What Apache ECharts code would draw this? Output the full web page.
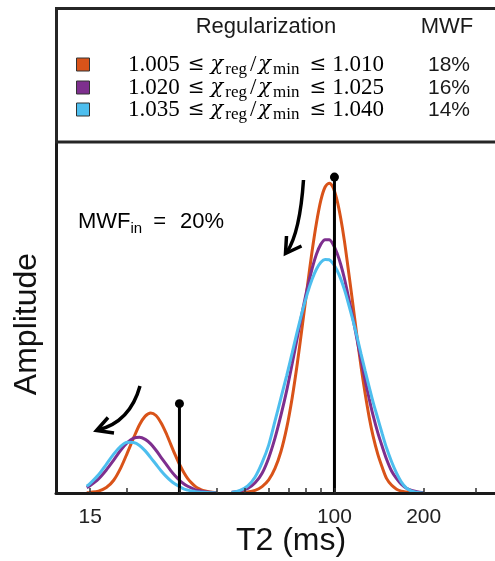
<!DOCTYPE html>
<html><head><meta charset="utf-8">
<script src="https://cdn.jsdelivr.net/npm/echarts@6/dist/echarts.min.js"></script>
<style>html,body{margin:0;padding:0;background:#fff}#c{width:495px;height:561px}</style>
</head><body><div id="c"></div>
<script>
// ---- data (T2 in ms, amplitude in arbitrary units) ----
const t2Short = [14.6,15,16,17,18,19,20,21,22,23,24,25,26,27,28,29,30,31,32,33,34,35,36,38,40];
const orangeShort = [0.001,0.002,0.006,0.017,0.040,0.078,0.125,0.172,0.214,0.241,0.251,0.243,0.220,0.189,0.154,0.120,0.090,0.065,0.045,0.031,0.020,0.013,0.008,0.003,0.001];
const purpleShort = [0.017,0.023,0.044,0.072,0.103,0.134,0.158,0.172,0.175,0.168,0.154,0.134,0.112,0.091,0.071,0.054,0.040,0.029,0.021,0.015,0.010,0.007,0.005,0.002,0.000];
const blueShort   = [0.021,0.030,0.057,0.090,0.122,0.146,0.159,0.158,0.149,0.132,0.111,0.090,0.070,0.053,0.039,0.028,0.020,0.013,0.009,0.006,0.004,0.003,0.002,0.001,0.000];

const t2Long = [45,48,51,54,57,60,63,66,69,72,75,78,81,84,87,90,93,96,99,102,105,108,111,115,119,123,127,131,135,140,145,150,156,162,168,175,182,190,200];
const orangeLong = [0.000,0.001,0.003,0.008,0.020,0.041,0.077,0.130,0.204,0.298,0.408,0.528,0.646,0.756,0.848,0.918,0.959,0.971,0.957,0.918,0.861,0.791,0.710,0.602,0.494,0.395,0.310,0.237,0.178,0.122,0.080,0.045,0.024,0.012,0.006,0.003,0.001,0.000,0.000];
const purpleLong = [0.002,0.006,0.014,0.032,0.062,0.110,0.172,0.244,0.321,0.405,0.489,0.570,0.642,0.702,0.749,0.780,0.794,0.794,0.779,0.752,0.716,0.673,0.623,0.555,0.484,0.416,0.352,0.295,0.243,0.189,0.145,0.105,0.068,0.045,0.028,0.015,0.008,0.004,0.001];
const blueLong   = [0.002,0.008,0.022,0.050,0.095,0.150,0.225,0.298,0.368,0.439,0.508,0.571,0.625,0.669,0.702,0.723,0.732,0.731,0.719,0.698,0.671,0.638,0.600,0.547,0.492,0.435,0.382,0.332,0.285,0.234,0.185,0.140,0.097,0.062,0.035,0.015,0.006,0.002,0.000];

const stemT2  = [30, 100];
const stemAmp = [0.28, 0.99];

const xLabelValues = [15, 100, 200];
const xTickValues  = [15, 20, 30, 40, 50, 60, 70, 80, 90, 100, 200, 300];
const xRange = [11.5, 348];

const regLow  = ['1.005', '1.020', '1.035'];
const regHigh = ['1.010', '1.025', '1.040'];
const mwfOut  = ['18%', '16%', '14%'];
const colors  = ['#D95319', '#7E2F8E', '#4DBEEE'];
const mwfIn = '20%';

// ---- chart ----
const L = v => Math.log10(v);
const pairs = (xs, ys) => xs.map((x, i) => [L(x), ys[i]]);
const SANS = "'Liberation Sans', Arial, Helvetica, sans-serif";
const SERIF = "'Liberation Serif', 'Times New Roman', serif";
const SERIF2 = "'DejaVu Serif', serif";

const curveSets = [[orangeShort, orangeLong], [purpleShort, purpleLong], [blueShort, blueLong]];
const series = [];
curveSets.forEach((set, k) => {
  [[t2Short, set[0]], [t2Long, set[1]]].forEach(([xs, ys]) => {
    series.push({
      type: 'line', data: pairs(xs, ys), smooth: 0.3, showSymbol: false, symbol: 'none',
      lineStyle: { color: colors[k], width: 3 }, itemStyle: { color: colors[k] },
      z: 2 + k * 0.01, silent: true, animation: false
    });
  });
});
stemT2.forEach((t, i) => {
  series.push({
    type: 'line', animation: false, silent: true, z: 4,
    data: [{ value: [L(t), 0], symbol: 'none' }, { value: [L(t), stemAmp[i]], symbol: 'circle', symbolSize: 9 }],
    showSymbol: true, showAllSymbol: true,
    lineStyle: { color: '#000', width: 3 }, itemStyle: { color: '#000' }
  });
});

const graphic = [];
// legend box (its bottom edge is the plot's top frame)
graphic.push({ type: 'rect', shape: { x: 56.5, y: 8.5, width: 470, height: 133.5 },
  style: { fill: 'none', stroke: '#262626', lineWidth: 3 }, z: 10 });
graphic.push({ type: 'text', x: 266, y: 27, style: { text: 'Regularization', font: `22px ${SANS}`, fill: '#1a1a1a', align: 'center', verticalAlign: 'middle' }, z: 10 });
graphic.push({ type: 'text', x: 447, y: 27, style: { text: 'MWF', font: `22px ${SANS}`, fill: '#1a1a1a', align: 'center', verticalAlign: 'middle' }, z: 10 });
const rowY = [65, 88, 110];
const C = '#141414';
const rich = {
  n: { fontFamily: SERIF, fontSize: 23, lineHeight: 26, color: C },
  op: { fontFamily: SERIF2, fontSize: 20, lineHeight: 26, padding: [0, 6, 0, 8], color: C },
  c: { fontFamily: SERIF2, fontSize: 21, fontStyle: 'italic', lineHeight: 26, color: C, padding: [0, 1, 0, 0] },
  s: { fontFamily: SERIF, fontSize: 17, lineHeight: 18, verticalAlign: 'bottom', color: C, padding: [0, 2, 0, 1] },
  sl: { fontFamily: SERIF, fontSize: 23, lineHeight: 26, color: C, padding: [0, 2, 0, 1] }
};
rowY.forEach((y, i) => {
  graphic.push({ type: 'rect', shape: { x: 76.5, y: y - 7, width: 13, height: 13 },
    style: { fill: colors[i], stroke: '#333', lineWidth: 1 }, z: 10 });
  graphic.push({ type: 'text', x: 128, y: y, z: 10, style: {
    text: `{n|${regLow[i]}}{op|≤}{c|χ}{s|reg}{sl|/}{c|χ}{s|min}{op|≤}{n|${regHigh[i]}}`,
    rich: rich, align: 'left', verticalAlign: 'middle' } });
  graphic.push({ type: 'text', x: 449, y: y, z: 10, style: { text: mwfOut[i], font: `21px ${SANS}`, fill: '#1a1a1a', align: 'center', verticalAlign: 'middle' } });
});
// MWF_in annotation
graphic.push({ type: 'text', x: 78, y: 222, z: 10, style: {
  text: `{a|MWF}{b|in}{e|=}{a|${mwfIn}}`,
  rich: { a: { fontFamily: SANS, fontSize: 22, lineHeight: 28, color: '#1a1a1a' },
          b: { fontFamily: SANS, fontSize: 15, lineHeight: 12, verticalAlign: 'bottom', color: '#1a1a1a', padding: [0, 4, 0, 0] },
          e: { fontFamily: SANS, fontSize: 22, lineHeight: 28, color: '#1a1a1a', padding: [0, 14, 0, 7] } },
  align: 'left', verticalAlign: 'middle' } });
// axis titles
graphic.push({ type: 'text', x: 291, y: 541, z: 10, style: { text: 'T2 (ms)', font: `32px ${SANS}`, fill: '#111', align: 'center', verticalAlign: 'middle' } });
graphic.push({ type: 'text', x: 27, y: 324, rotation: Math.PI / 2, z: 10, style: { text: 'Amplitude', font: `32px ${SANS}`, fill: '#111', align: 'center', verticalAlign: 'middle' } });
// arrows
graphic.push({ type: 'bezierCurve', z: 10, shape: { x1: 303.5, y1: 180, cpx1: 300, cpy1: 232, x2: 287, y2: 252 },
  style: { stroke: '#000', lineWidth: 3.5, fill: 'none' } });
graphic.push({ type: 'polyline', z: 10, shape: { points: [[286.5, 236], [285.5, 253.5], [301.5, 246]] },
  style: { stroke: '#000', lineWidth: 3.5, fill: 'none', lineJoin: 'miter' } });
graphic.push({ type: 'bezierCurve', z: 10, shape: { x1: 140, y1: 386, cpx1: 130, cpy1: 422, x2: 98, y2: 430 },
  style: { stroke: '#000', lineWidth: 3.5, fill: 'none' } });
graphic.push({ type: 'polyline', z: 10, shape: { points: [[108, 417.5], [96.5, 430.5], [114, 433]] },
  style: { stroke: '#000', lineWidth: 3.5, fill: 'none', lineJoin: 'miter' } });

const chart = echarts.init(document.getElementById('c'), null, { renderer: 'canvas' });
chart.setOption({
  backgroundColor: '#fff',
  animation: false,
  grid: { left: 56, right: 0, top: 142, bottom: 68, containLabel: false },
  xAxis: {
    type: 'value', min: L(xRange[0]), max: L(xRange[1]), z: 5,
    axisLine: { show: true, lineStyle: { color: '#1a1a1a', width: 3 } },
    axisTick: { show: true, inside: true, length: 5, customValues: xTickValues.map(L), lineStyle: { color: '#333', width: 1.5 } },
    axisLabel: { show: true, customValues: xLabelValues.map(L), margin: 14,
      formatter: v => String(Math.round(Math.pow(10, v))), fontSize: 21, fontFamily: SANS, color: '#222' },
    splitLine: { show: false }
  },
  yAxis: {
    type: 'value', min: 0, max: 1.1, z: 5,
    axisLine: { show: true, lineStyle: { color: '#1a1a1a', width: 3 } },
    axisTick: { show: false }, axisLabel: { show: false }, splitLine: { show: false }
  },
  series: series,
  graphic: graphic
});
</script></body></html>
